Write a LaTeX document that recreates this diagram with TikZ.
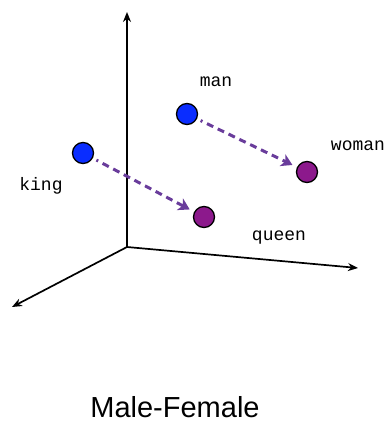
\documentclass[tikz,border=0pt]{standalone}
\usepackage{fontspec}
\setmainfont{Liberation Sans}
\setmonofont{Liberation Mono}
\usetikzlibrary{arrows.meta}
\definecolor{dotblue}{RGB}{10,45,255}
\definecolor{dotpurple}{RGB}{140,25,140}
\definecolor{arrpurple}{RGB}{105,60,155}
\begin{document}
\begin{tikzpicture}[x=1pt,y=-1pt,
  axis/.style={draw=black,line width=1.7pt,-{Stealth[length=10pt,width=8pt]}},
  bluedot/.style={circle,draw=black,line width=1.3pt,fill=dotblue,minimum size=21pt,inner sep=0pt},
  purpledot/.style={circle,draw=black,line width=1.3pt,fill=dotpurple,minimum size=21pt,inner sep=0pt},
  genderarrow/.style={draw=arrpurple,line width=3pt,dash pattern=on 2pt off 5pt on 7pt off 5pt on 7pt off 5pt on 7pt off 5pt on 7pt off 5pt on 7pt off 5pt on 7pt off 5pt on 7pt off 5pt on 7pt off 5pt,shorten <=4pt,shorten >=5pt,-{Stealth[length=11pt,width=13pt,inset=3pt]}},
  word/.style={font=\ttfamily\fontsize{18}{20}\selectfont,inner sep=0pt}]
\useasboundingbox (0,0) rectangle (388,423);
\coordinate (o) at (127,247);
\coordinate (up) at (127,12);
\coordinate (rt) at (358,268);
\coordinate (ll) at (12,307);
\draw[axis] (o) -- (up);
\draw[axis] (o) -- (rt);
\draw[axis] (o) -- (ll);
\node[bluedot] (man) at (187,114) {};
\node[bluedot] (king) at (83,153) {};
\node[purpledot] (woman) at (307,172) {};
\node[purpledot] (queen) at (204,217) {};
\draw[genderarrow] (man) -- (woman);
\draw[genderarrow] (king) -- (queen);
\node[word] (lman) at (216,82) {man};
\node[word] (lwoman) at (358,146) {woman};
\node[word] (lking) at (41,186) {king};
\node[word] (lqueen) at (279,238) {queen};
\node[font=\fontsize{29}{34}\selectfont,inner sep=0pt] (title) at (175,407) {Male-Female};
\end{tikzpicture}
\end{document}
